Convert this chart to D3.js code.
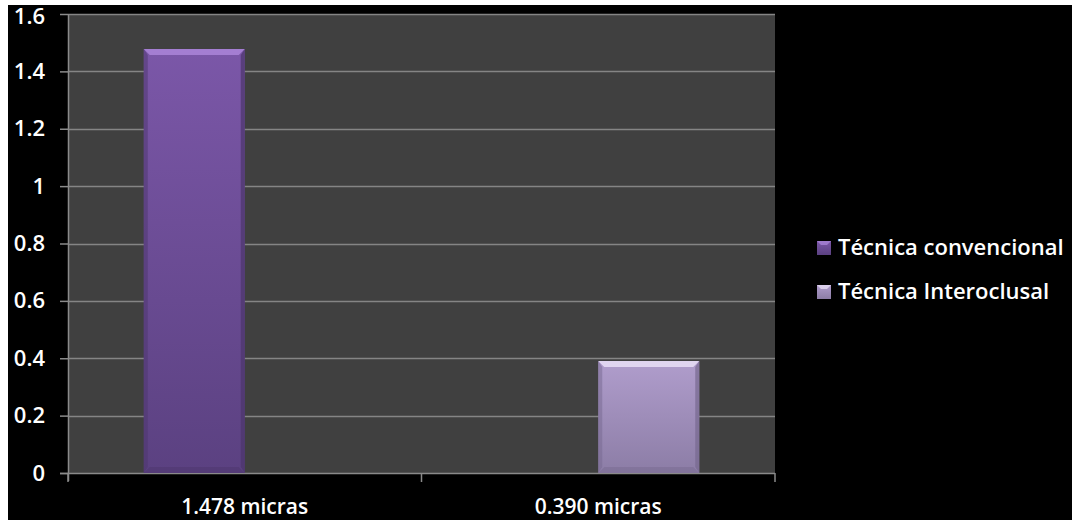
<!DOCTYPE html>
<html lang="es">
<head>
<meta charset="UTF-8">
<title>Técnica convencional vs Interoclusal</title>
<script src="https://d3js.org/d3.v7.min.js"></script>
<style>
    body { margin: 0; background: #fff; overflow: hidden; }
    svg { display: block; }
    text { font-family: "Open Sans", sans-serif; fill: #fff; font-weight: 600; }
</style>
</head>
<body>
<svg id="chart" width="1072" height="520"></svg>
<script>
// data
const categories = ["1.478 micras", "0.390 micras"];
const seriesNames = ["Técnica convencional", "Técnica Interoclusal"];
const convencional = [1.478, 0];
const interoclusal = [0, 0.390];
const yTicks = [0, 0.2, 0.4, 0.6, 0.8, 1, 1.2, 1.4, 1.6];

const svg = d3.select("#chart");
const plot = { left: 68, right: 775, top: 14, bottom: 473 };

// black backdrop (white strip left/top)
svg.append("rect").attr("x", 8).attr("y", 5).attr("width", 1064).attr("height", 515).attr("fill", "#000");
svg.append("rect")
    .attr("x", plot.left).attr("y", plot.top)
    .attr("width", plot.right - plot.left).attr("height", plot.bottom - plot.top)
    .attr("fill", "#404040");

const x0 = d3.scaleBand().domain(categories).range([plot.left, plot.right]).padding(0);
const x1 = d3.scaleBand().domain(seriesNames).range([0, x0.bandwidth()]).paddingInner(0).paddingOuter(0.75);
const y = d3.scaleLinear().domain([0, 1.6]).range([plot.bottom, plot.top]);

// gradients
const defs = svg.append("defs");
const palettes = [
    { top: "#7b57a8", bottom: "#5b4181", bevel: "#a883d6", edge: "#4b356b" },
    { top: "#b09dcc", bottom: "#8c7da6", bevel: "#e6dcf4", edge: "#76688f" }
];
palettes.forEach((p, i) => {
    const g = defs.append("linearGradient").attr("id", "g" + i)
        .attr("x1", 0).attr("y1", 0).attr("x2", 0).attr("y2", 1);
    g.append("stop").attr("offset", "0%").attr("stop-color", p.top);
    g.append("stop").attr("offset", "100%").attr("stop-color", p.bottom);
});

// gridlines
svg.append("g").selectAll("line").data(yTicks.slice(1)).join("line")
    .attr("x1", plot.left).attr("x2", plot.right)
    .attr("y1", d => Math.round(y(d)) + 0.5).attr("y2", d => Math.round(y(d)) + 0.5)
    .attr("stroke", "#858585").attr("stroke-width", 1.3);

// y axis
const yAxis = svg.append("g").attr("transform", `translate(${plot.left},0)`)
    .call(d3.axisLeft(y).tickValues(yTicks).tickSize(8).tickPadding(15).tickFormat(d3.format("")));
yAxis.select(".domain").remove();
yAxis.append("line").attr("x1", 0.5).attr("x2", 0.5).attr("y1", plot.top).attr("y2", plot.bottom + 8)
    .attr("stroke", "#8a8a8a").attr("stroke-width", 1.5);
yAxis.selectAll(".tick line").attr("stroke", "#8a8a8a").attr("stroke-width", 1.5);
yAxis.selectAll(".tick text").attr("fill", "#fff").style("font-size", "22px")
    .style("font-family", "'Open Sans', sans-serif").style("font-weight", 600);
// keep the top label inside the frame
yAxis.selectAll(".tick text").filter(d => d === 1.6).attr("dy", "0.45em");

// x axis
svg.append("line").attr("x1", plot.left - 8).attr("x2", plot.right)
    .attr("y1", plot.bottom + 0.5).attr("y2", plot.bottom + 0.5)
    .attr("stroke", "#8a8a8a").attr("stroke-width", 1.5);
const bounds = categories.map(c => x0(c)).concat([plot.right]);
svg.append("g").selectAll("line").data(bounds).join("line")
    .attr("x1", d => d).attr("x2", d => d)
    .attr("y1", plot.bottom).attr("y2", plot.bottom + 9)
    .attr("stroke", "#8a8a8a").attr("stroke-width", 1.5);
svg.append("g").selectAll("text").data(categories).join("text")
    .attr("x", d => x0(d) + x0.bandwidth() / 2)
    .attr("y", 514)
    .attr("text-anchor", "middle")
    .style("font-size", "21px")
    .text(d => d);

// bars
const values = [convencional, interoclusal];
const barData = [];
categories.forEach((c, ci) => {
    seriesNames.forEach((s, si) => {
        const v = values[si][ci];
        if (v > 0) barData.push({ c, s, si, v });
    });
});
const bev = 6;
const bars = svg.append("g").selectAll("g").data(barData).join("g");
bars.each(function (d) {
    const g = d3.select(this);
    const x = x0(d.c) + x1(d.s), w = x1.bandwidth();
    const top = y(d.v), bot = y(0);
    const p = palettes[d.si];
    g.append("rect").attr("x", x).attr("y", top).attr("width", w).attr("height", bot - top)
        .attr("fill", `url(#g${d.si})`);
    // bevel edges
    g.append("polygon").attr("points", [[x, top], [x + w, top], [x + w - bev, top + bev], [x + bev, top + bev]].join(" "))
        .attr("fill", p.bevel).attr("opacity", 0.9);
    g.append("polygon").attr("points", [[x, top], [x + bev - 2, top + bev], [x + bev - 2, bot - bev], [x, bot]].join(" "))
        .attr("fill", p.edge).attr("opacity", 0.5);
    g.append("polygon").attr("points", [[x + w, top], [x + w - bev + 2, top + bev], [x + w - bev + 2, bot - bev], [x + w, bot]].join(" "))
        .attr("fill", p.edge).attr("opacity", 0.7);
    g.append("polygon").attr("points", [[x, bot], [x + bev, bot - bev], [x + w - bev, bot - bev], [x + w, bot]].join(" "))
        .attr("fill", p.edge).attr("opacity", 0.45);
});

// legend
const legend = svg.append("g").selectAll("g").data(seriesNames).join("g")
    .attr("transform", (d, i) => `translate(817,${241 + i * 44})`);
legend.append("rect").attr("width", 14).attr("height", 14)
    .attr("fill", (d, i) => `url(#g${i})`);
legend.append("polygon").attr("points", "0,0 14,0 10,4 4,4")
    .attr("fill", (d, i) => palettes[i].bevel).attr("opacity", 0.8);
legend.append("text").attr("x", 21).attr("y", 14)
    .style("font-size", "22px")
    .text(d => d);
</script>
</body>
</html>
